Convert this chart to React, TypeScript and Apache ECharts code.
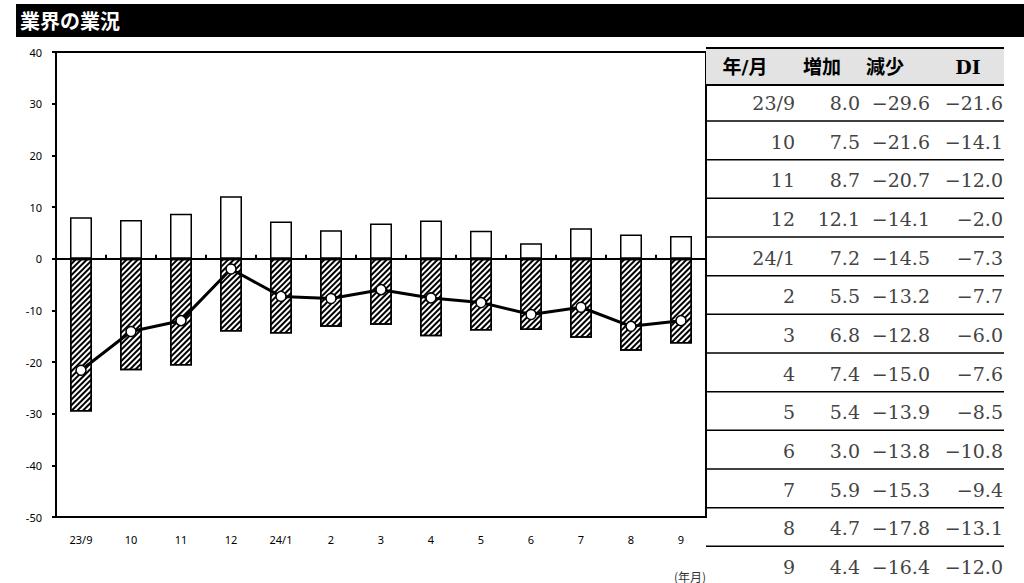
import React, { useEffect, useRef } from 'react';
import * as echarts from 'echarts';

const months = ['23/9', '10', '11', '12', '24/1', '2', '3', '4', '5', '6', '7', '8', '9'];
const increase = [8.0, 7.5, 8.7, 12.1, 7.2, 5.5, 6.8, 7.4, 5.4, 3.0, 5.9, 4.7, 4.4];
const decrease = [-29.6, -21.6, -20.7, -14.1, -14.5, -13.2, -12.8, -15.0, -13.9, -13.8, -15.3, -17.8, -16.4];
const di = [-21.6, -14.1, -12.0, -2.0, -7.3, -7.7, -6.0, -7.6, -8.5, -10.8, -9.4, -13.1, -12.0];
const headers = ['年/月', '増加', '減少', 'DI'];

const serif = '"DejaVu Serif", "Liberation Serif", "Noto Sans CJK JP", serif';

export default function App() {
  const chartRef = useRef<HTMLDivElement>(null);

  useEffect(() => {
    if (!chartRef.current) return;
    const chart = echarts.init(chartRef.current, undefined, { renderer: 'svg' });

    const fmt = (v: number) => (v < 0 ? '−' + Math.abs(v).toFixed(1) : v.toFixed(1));
    const rowH = 38.67;
    const colRight = [795, 860, 930, 1003];
    const headerX = [745, 822, 885, 968];

    const graphic: any[] = [
      { type: 'rect', shape: { x: 16, y: 4, width: 1008, height: 33 }, style: { fill: '#000' } },
      { type: 'text', x: 20, y: 20, style: { text: '業界の業況', fill: '#fff', font: 'bold 20px "Noto Sans CJK JP"', textVerticalAlign: 'middle' } },
      { type: 'rect', shape: { x: 706, y: 48, width: 298, height: 37 }, style: { fill: '#e3e3e3' } },
      { type: 'line', shape: { x1: 706, y1: 48, x2: 1004, y2: 48 }, style: { stroke: '#000', lineWidth: 2 } },
      { type: 'line', shape: { x1: 706, y1: 85, x2: 1004, y2: 85 }, style: { stroke: '#000', lineWidth: 2 } },
      { type: 'text', x: 690, y: 576, style: { text: '(年月)', fill: '#333', font: '12px "Noto Sans CJK JP"', textAlign: 'center', textVerticalAlign: 'middle' } },
    ];
    headers.forEach((h, i) => {
      graphic.push({ type: 'text', x: headerX[i], y: 67, style: { text: h, fill: '#000', font: 'bold 19px ' + serif, textAlign: 'center', textVerticalAlign: 'middle' } });
    });
    months.forEach((m, r) => {
      const y = 103 + r * rowH;
      const vals = [m, increase[r].toFixed(1), fmt(decrease[r]), fmt(di[r])];
      vals.forEach((v, c) => {
        graphic.push({ type: 'text', x: colRight[c], y, style: { text: v, fill: '#444', font: '19px ' + serif, textAlign: 'right', textVerticalAlign: 'middle' } });
      });
      graphic.push({ type: 'line', shape: { x1: 706, y1: y + 18, x2: 1004, y2: y + 18 }, style: { stroke: '#000', lineWidth: 1.5 } });
    });

    const option: echarts.EChartsOption = {
      animation: false,
      textStyle: { fontFamily: '"Noto Sans", sans-serif' },
      grid: { left: 56, right: 318, top: 52, bottom: 66, show: true, borderColor: '#000', borderWidth: 2, backgroundColor: 'transparent' },
      xAxis: [
        {
          type: 'category', data: months, position: 'bottom',
          axisLine: { onZero: false, lineStyle: { color: '#000', width: 2 } },
          axisTick: { show: false },
          axisLabel: { color: '#000', fontSize: 11, margin: 17 },
        },
        {
          type: 'category', data: months, position: 'top',
          axisLine: { onZero: true, lineStyle: { color: '#000', width: 2 } },
          axisTick: { show: true, length: 4, lineStyle: { color: '#000', width: 2 } },
          axisLabel: { show: false },
        },
      ],
      yAxis: {
        type: 'value', min: -50, max: 40, interval: 10,
        axisLine: { show: true, lineStyle: { color: '#000', width: 2 } },
        axisTick: { show: true, length: 4, lineStyle: { color: '#000', width: 2 } },
        axisLabel: { color: '#000', fontSize: 11, margin: 14 },
        splitLine: { show: false },
      },
      series: [
        {
          name: '増加', type: 'bar', stack: 'a', data: increase, barWidth: 22,
          itemStyle: { color: '#fff', borderColor: '#000', borderWidth: 1.5 },
        },
        {
          name: '減少', type: 'bar', stack: 'a', data: decrease, barWidth: 22,
          itemStyle: {
            color: '#fff', borderColor: '#000', borderWidth: 1.5,
            decal: { symbol: 'rect', color: '#000', backgroundColor: '#fff', dashArrayX: [1, 0], dashArrayY: [2, 2], rotation: -Math.PI / 4, symbolSize: 1 },
          },
        },
        {
          name: 'DI', type: 'line', data: di, symbol: 'circle', symbolSize: 10, z: 5,
          lineStyle: { color: '#000', width: 3 },
          itemStyle: { color: '#fff', borderColor: '#000', borderWidth: 1.5 },
        },
      ],
      graphic,
    };

    chart.setOption(option);
    return () => chart.dispose();
  }, []);

  return <div ref={chartRef} style={{ position: 'absolute', left: 0, top: 0, width: 1024, height: 583, background: '#fff' }} />;
}
